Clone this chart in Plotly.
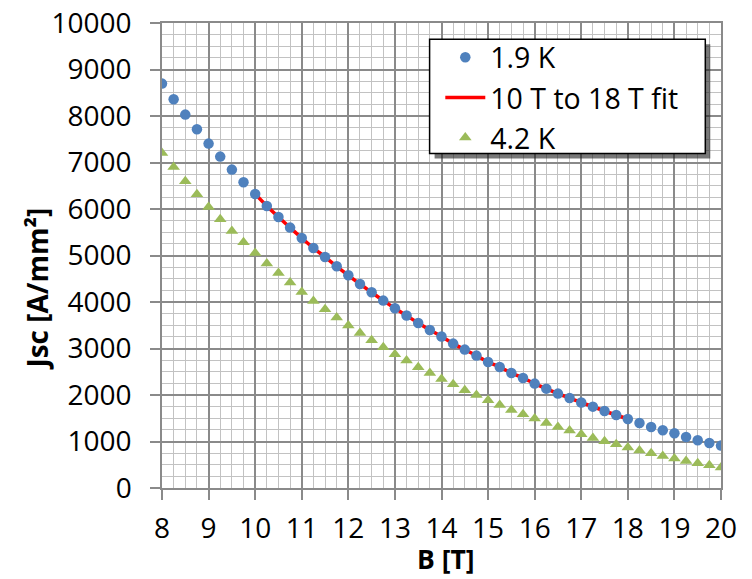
import plotly.graph_objects as go

# ---- data ----
b_field = [8 + 0.25 * i for i in range(49)]  # 8 T .. 20 T, 0.25 T steps

jsc_19K = [8697, 8359, 8030, 7714, 7406, 7127, 6847, 6574,
           6323, 6065, 5828, 5600, 5376, 5161, 4968, 4768,
           4574, 4387, 4209, 4030, 3865, 3708, 3548, 3398,
           3259, 3105, 2976, 2847, 2710, 2602, 2473, 2366,
           2245, 2137, 2030, 1935, 1837, 1750, 1656, 1570,
           1484, 1398, 1312, 1241, 1176, 1097, 1026, 968, 912]

jsc_42K = [7204, 6903, 6596, 6316, 6043, 5778, 5527, 5284,
           5054, 4826, 4624, 4417, 4215, 4022, 3843, 3665,
           3492, 3333, 3176, 3026, 2875, 2740, 2596, 2473,
           2344, 2230, 2101, 2000, 1886, 1785, 1677, 1585,
           1492, 1398, 1312, 1234, 1155, 1075, 1004, 940,
           869, 804, 746, 688, 632, 581, 531, 488, 439]

fit_b = [b for b in b_field if 10 <= b <= 18]
fit_jsc = [j for b, j in zip(b_field, jsc_19K) if 10 <= b <= 18]

x_ticks = list(range(8, 21))
y_ticks = list(range(0, 10001, 1000))

# ---- layout geometry (screen pixels; body margin removed below) ----
W, H = 752, 579
L, R, T, B = 161.7, 720.7, 22.7, 487.7
pw, ph = R - L, B - T

def px_x(p):  # screen px -> paper
    return (p - L) / pw

def px_y(p):
    return (B - p) / ph

FONT = "Open Sans"

fig = go.Figure()

fig.add_trace(go.Scatter(
    x=fit_b, y=fit_jsc, mode="lines", name="10 T to 18 T fit",
    line=dict(color="#ff0000", width=3.5, shape="spline"), legendrank=2))
fig.add_trace(go.Scatter(
    x=b_field, y=jsc_19K, mode="markers", name="1.9 K",
    marker=dict(color="#4f81bd", size=10.5, symbol="circle"), legendrank=1))
fig.add_trace(go.Scatter(
    x=b_field, y=jsc_42K, mode="markers", name="4.2 K",
    marker=dict(color="#9bbb59", size=11, symbol="triangle-up"), legendrank=3))

# legend frame + shadow (drawn as shapes beneath the legend entries)
lx0, lx1, ly0, ly1 = 429.3, 705, 39, 153.3
fig.add_shape(type="rect", xref="paper", yref="paper",
              x0=px_x(lx0 + 5), x1=px_x(lx1 + 5), y0=px_y(ly1 + 5), y1=px_y(ly0 + 5),
              fillcolor="rgba(30,30,30,0.6)", line=dict(width=0), layer="above")
fig.add_shape(type="rect", xref="paper", yref="paper",
              x0=px_x(lx0), x1=px_x(lx1), y0=px_y(ly1), y1=px_y(ly0),
              fillcolor="white", line=dict(color="black", width=1.5), layer="above")

axis_common = dict(
    showgrid=True, gridcolor="#8a8a8a", gridwidth=1.5,
    ticks="outside", ticklen=10, tickwidth=1.5, tickcolor="#8a8a8a",
    showline=True, linecolor="#8a8a8a", linewidth=1.5, mirror=True,
    zeroline=False, automargin=False, ticklabeloverflow="allow",
    tickfont=dict(family=FONT, size=28, color="black"),
)

fig.update_xaxes(
    range=[8, 20], tickvals=x_ticks, ticktext=[str(v) for v in x_ticks],
    minor=dict(dtick=0.25, showgrid=True, gridcolor="#c2c2c2", gridwidth=1.3, ticks=""),
    ticklabelstandoff=5,
    **axis_common)
fig.update_yaxes(
    range=[0, 10000], tickvals=y_ticks, ticktext=[str(v) for v in y_ticks],
    minor=dict(dtick=250, showgrid=True, gridcolor="#c2c2c2", gridwidth=1.3, ticks=""),
    ticklabelstandoff=13,
    **axis_common)

# axis titles
fig.add_annotation(text="<b>B [T]</b>", xref="paper", yref="paper",
                   x=px_x(446), y=px_y(559), xanchor="center", yanchor="middle",
                   showarrow=False, font=dict(family=FONT, size=26.5, color="black"))
fig.add_annotation(text="<b>Jsc [A/mm²]</b>", xref="paper", yref="paper",
                   x=px_x(37), y=px_y(289), xanchor="center", yanchor="middle",
                   textangle=-90, showarrow=False,
                   font=dict(family=FONT, size=28, color="black"))

fig.update_layout(
    width=W, height=H, autosize=False,
    margin=dict(l=L, r=W - R, t=T, b=H - B, pad=0),
    paper_bgcolor="white", plot_bgcolor="white",
    font=dict(family=FONT, size=28, color="black"),
    legend=dict(
        x=px_x(440), y=px_y(32), xanchor="left", yanchor="top",
        bgcolor="rgba(0,0,0,0)", borderwidth=0,
        font=dict(family=FONT, size=28.5, color="black"),
        itemwidth=40, tracegroupgap=0,
    ),
    showlegend=True,
)

fig.write_html("out.html",
               config={"displayModeBar": False},
               post_script="document.body.style.margin='0px';"
                           "document.body.style.overflow='hidden';")
